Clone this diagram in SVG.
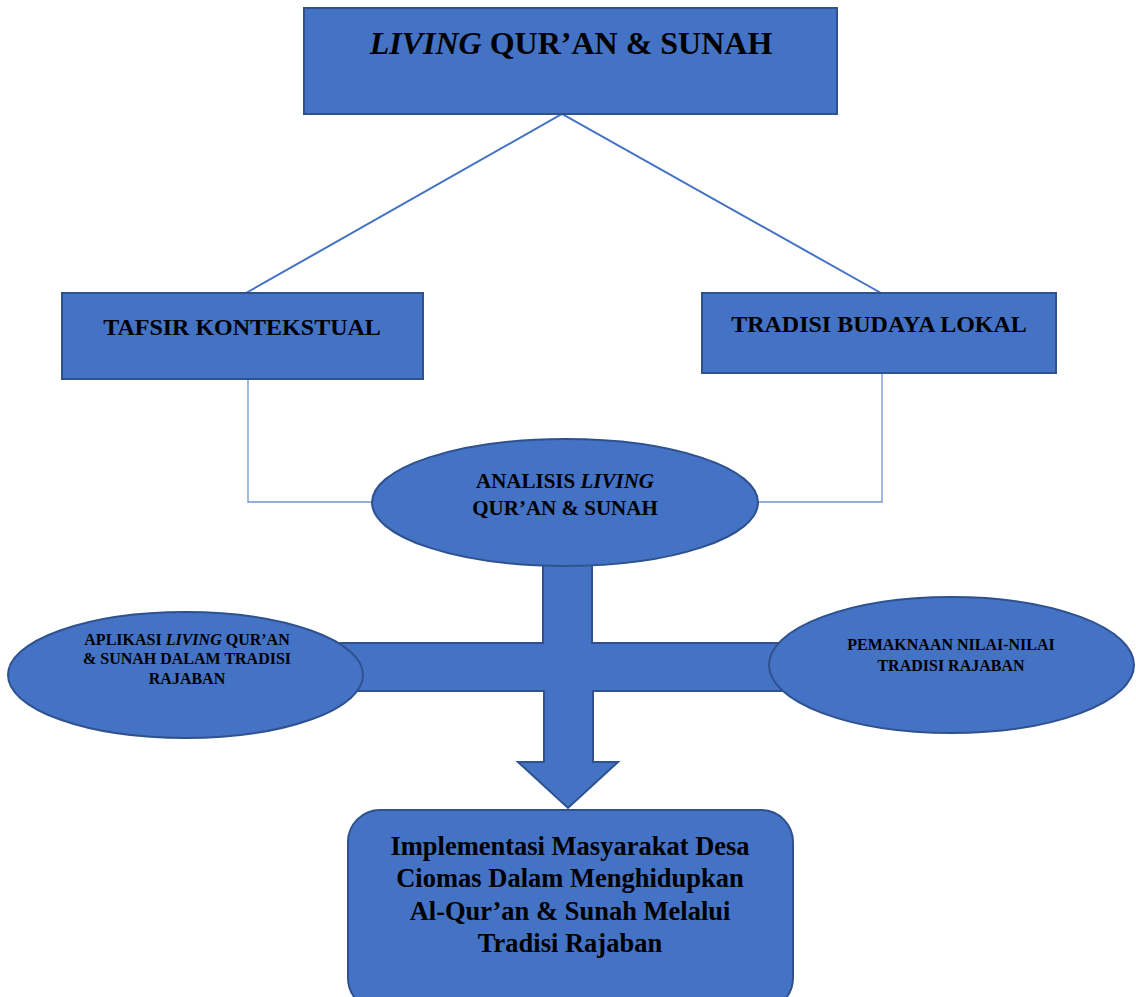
<svg xmlns="http://www.w3.org/2000/svg" width="1136" height="997" viewBox="0 0 1136 997">
<style>
.shape{fill:#4472C4;stroke:#2F528F;stroke-width:2}
.t{font-family:"Liberation Serif","Times New Roman",serif;font-weight:bold;fill:#000;text-anchor:middle}
.i{font-style:italic}
.line{fill:none;stroke:#4472C4;stroke-width:2}
.thin{fill:none;stroke:#6F94D4;stroke-width:1.3}
</style>
<rect x="0" y="0" width="1136" height="997" fill="#fff"/>
<g id="connectors">
<path class="line" d="M246,293 L562,114 L881,293"/>
<path class="thin" d="M248,379 L248,502 L372,502"/>
<path class="thin" d="M882,373 L882,502 L758,502"/>
<path id="arrow" class="shape" d="M543,560 L592,560 L592,643 L790,643 L790,691 L593,691 L593,762 L618,762 L568,808 L518,762 L544,762 L544,691 L340,691 L340,643 L543,643 Z"/>
</g>
<g id="title">
<rect class="shape" x="304" y="8" width="533" height="106"/>
<text class="t" x="571" y="54" font-size="32"><tspan class="i">LIVING</tspan> QUR’AN &amp; SUNAH</text>
</g>
<g id="tafsir">
<rect class="shape" x="62" y="293" width="361" height="86"/>
<text class="t" x="242" y="335" font-size="24">TAFSIR KONTEKSTUAL</text>
</g>
<g id="tradisi">
<rect class="shape" x="702" y="293" width="354" height="80"/>
<text class="t" x="879" y="332" font-size="24">TRADISI BUDAYA LOKAL</text>
</g>
<g id="analisis">
<ellipse class="shape" cx="565" cy="502.5" rx="193" ry="63.5"/>
<text class="t" x="565" y="488" font-size="21">ANALISIS <tspan class="i">LIVING</tspan></text>
<text class="t" x="565" y="515" font-size="21">QUR’AN &amp; SUNAH</text>
</g>
<g id="aplikasi">
<ellipse class="shape" cx="185.5" cy="675" rx="177.5" ry="63"/>
<text class="t" x="187" y="645" font-size="16">APLIKASI <tspan class="i">LIVING</tspan> QUR’AN</text>
<text class="t" x="187" y="664" font-size="16">&amp; SUNAH DALAM TRADISI</text>
<text class="t" x="187" y="684" font-size="16">RAJABAN</text>
</g>
<g id="pemaknaan">
<ellipse class="shape" cx="951.5" cy="665" rx="182.5" ry="68"/>
<text class="t" x="951" y="650" font-size="16">PEMAKNAAN NILAI-NILAI</text>
<text class="t" x="951" y="671" font-size="16">TRADISI RAJABAN</text>
</g>
<g id="implementasi">
<rect class="shape" x="348" y="810" width="445" height="200" rx="32"/>
<text class="t" x="570" y="855" font-size="26.5">Implementasi Masyarakat Desa</text>
<text class="t" x="570" y="887" font-size="26.5">Ciomas Dalam Menghidupkan</text>
<text class="t" x="570" y="920" font-size="26.5">Al-Qur’an &amp; Sunah Melalui</text>
<text class="t" x="570" y="952" font-size="26.5">Tradisi Rajaban</text>
</g>
</svg>
